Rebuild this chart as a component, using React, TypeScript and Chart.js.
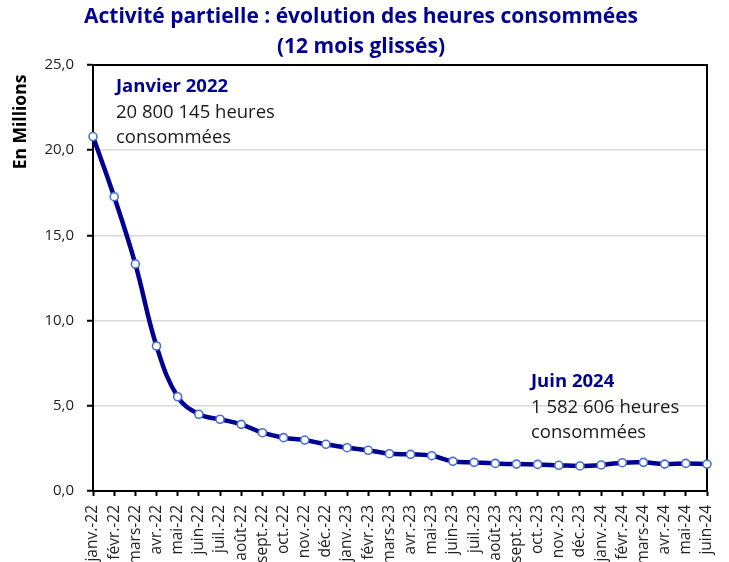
import React, { useEffect, useRef } from "react";
import { Chart, registerables } from "chart.js";

Chart.register(...registerables);

const categories: string[] = [
  "janv.-22", "févr.-22", "mars-22", "avr.-22", "mai-22", "juin-22", "juil.-22", "août-22", "sept.-22", "oct.-22", "nov.-22", "déc.-22",
  "janv.-23", "févr.-23", "mars-23", "avr.-23", "mai-23", "juin-23", "juil.-23", "août-23", "sept.-23", "oct.-23", "nov.-23", "déc.-23",
  "janv.-24", "févr.-24", "mars-24", "avr.-24", "mai-24", "juin-24",
];

const heuresMillions: number[] = [
  20.8, 17.27, 13.32, 8.51, 5.53, 4.5, 4.21, 3.91, 3.42, 3.13, 2.99, 2.74,
  2.54, 2.39, 2.19, 2.15, 2.07, 1.74, 1.68, 1.62, 1.58, 1.56, 1.51, 1.47,
  1.53, 1.66, 1.68, 1.58, 1.62, 1.58,
];

const yTicks: number[] = [0, 5, 10, 15, 20, 25];

const titleLines: string[] = ["Activité partielle : évolution des heures consommées", "(12 mois glissés)"];
const yAxisTitle = "En Millions";
const noteStart: string[] = ["Janvier 2022", "20 800 145 heures", "consommées"];
const noteEnd: string[] = ["Juin 2024", "1 582 606 heures", "consommées"];

const FONT = "'Open Sans', 'Noto Sans', sans-serif";
const NAVY = "#000091";

export default function App() {
  const ref = useRef<HTMLCanvasElement | null>(null);

  useEffect(() => {
    if (!ref.current) return;

    const decor = {
      id: "decor",
      beforeDatasetsDraw(chart: any) {
        const { ctx, chartArea } = chart;
        ctx.save();
        ctx.strokeStyle = "#000";
        ctx.lineWidth = 2;
        ctx.strokeRect(chartArea.left, chartArea.top, chartArea.right - chartArea.left, chartArea.bottom - chartArea.top);
        ctx.restore();
      },
      afterDraw(chart: any) {
        const { ctx, chartArea } = chart;
        // title
        ctx.save();
        ctx.font = `bold 21px ${FONT}`;
        ctx.fillStyle = NAVY;
        ctx.textAlign = "center";
        ctx.textBaseline = "middle";
        titleLines.forEach((t, i) => ctx.fillText(t, 361, 17 + i * 30));
        ctx.restore();

        // y axis title
        ctx.save();
        ctx.translate(21, 122);
        ctx.rotate(-Math.PI / 2);
        ctx.font = `bold 17.5px ${FONT}`;
        ctx.fillStyle = "#000";
        ctx.textAlign = "center";
        ctx.textBaseline = "middle";
        ctx.fillText(yAxisTitle, 0, 0);
        ctx.restore();

        const drawNote = (lines: string[], x: number, y: number) => {
          ctx.save();
          ctx.textAlign = "left";
          ctx.textBaseline = "middle";
          lines.forEach((t, i) => {
            ctx.font = i === 0 ? `bold 18.5px ${FONT}` : `18.5px ${FONT}`;
            ctx.fillStyle = i === 0 ? NAVY : "#1a1a1a";
            ctx.fillText(t, x, y + i * 25.5);
          });
          ctx.restore();
        };
        drawNote(noteStart, chartArea.left + 23, 87);
        drawNote(noteEnd, chartArea.left + 438, 382);
      },
    };

    const chart = new Chart(ref.current, {
      type: "line",
      data: {
        labels: categories,
        datasets: [
          {
            data: heuresMillions,
            borderColor: NAVY,
            borderWidth: 4.5,
            tension: 0.4,
            pointRadius: 4,
            pointBackgroundColor: "#ffffff",
            pointBorderColor: "#4a6fcf",
            pointBorderWidth: 1.6,
            clip: false as any,
          },
        ],
      },
      options: {
        responsive: false,
        animation: false,
        layout: { padding: { top: 65, right: 22, left: 0, bottom: 0 } },
        plugins: {
          legend: { display: false },
          tooltip: { enabled: false },
          title: { display: false },
        },
        scales: {
          x: {
            offset: false,
            border: { display: true, color: "#000", width: 2 },
            grid: { display: true, drawOnChartArea: false, tickColor: "#000", tickLength: 5, tickWidth: 2 },
            ticks: {
              autoSkip: false,
              maxRotation: 90,
              minRotation: 90,
              padding: 9,
              color: "#222",
              font: { family: FONT, size: 15.5 },
            },
            afterFit(scale: any) {
              scale.height = 71;
              scale.paddingRight = 0;
              scale.paddingLeft = 0;
            },
          },
          y: {
            min: 0,
            max: 25,
            afterBuildTicks(scale: any) {
              scale.ticks = yTicks.map((v) => ({ value: v }));
            },
            border: { display: true, color: "#000", width: 2 },
            grid: { color: "#d9d9d9", lineWidth: 1.5, tickColor: "#000", tickLength: 6, tickWidth: 2 },
            ticks: {
              padding: 13,
              color: "#222",
              font: { family: FONT, size: 15 },
              callback: (v: any) => Number(v).toFixed(1).replace(".", ","),
            },
            afterFit(scale: any) {
              scale.width = 93;
            },
          },
        },
      },
      plugins: [decor],
    });
    return () => chart.destroy();
  }, []);

  return (
    <div style={{ position: "absolute", left: 0, top: 0, width: 729, height: 562 }}>
      <canvas ref={ref} width={729} height={562} style={{ width: 729, height: 562 }} />
    </div>
  );
}
